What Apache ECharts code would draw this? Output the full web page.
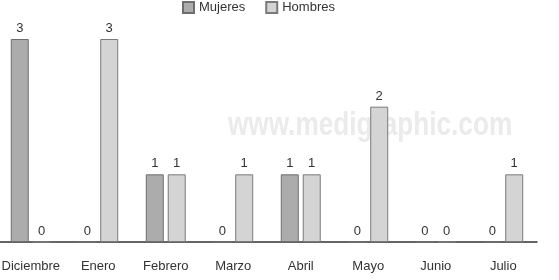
<!DOCTYPE html>
<html>
<head>
<meta charset="utf-8">
<script src="https://cdn.jsdelivr.net/npm/echarts@6/dist/echarts.min.js"></script>
<style>
  html, body { margin: 0; padding: 0; background: #fff; }
  #chart { width: 559px; height: 280px; }
</style>
</head>
<body>
<div id="chart"></div>
<script>
var meses = ['Diciembre', 'Enero', 'Febrero', 'Marzo', 'Abril', 'Mayo', 'Junio', 'Julio'];
var mujeres = [3, 0, 1, 0, 1, 0, 0, 0];
var hombres = [0, 3, 1, 1, 1, 2, 0, 1];

var chart = echarts.init(document.getElementById('chart'));

var etiqueta = {
    show: true,
    position: 'top',
    distance: 4,
    color: '#333',
    fontSize: 13,
    fontFamily: 'Liberation Sans'
};

var option = {
    animation: false,
    textStyle: { fontFamily: 'Liberation Sans' },
    graphic: [{
        type: 'text',
        x: 228,
        y: 126,
        scaleX: 0.77,
        z: -10,
        silent: true,
        style: {
            text: 'www.medigraphic.com',
            fill: '#ebebeb',
            font: 'bold 34px "Liberation Sans"',
            verticalAlign: 'middle'
        }
    }],
    legend: {
        left: 182,
        top: 1,
        padding: 0,
        itemWidth: 11,
        itemHeight: 11,
        itemGap: 20,
        icon: 'rect',
        textStyle: { color: '#333', fontSize: 13 },
        data: ['Mujeres', 'Hombres']
    },
    grid: { left: -3, width: 540, top: 39, bottom: 38, outerBoundsMode: 'none', containLabel: false },
    xAxis: {
        type: 'category',
        data: meses,
        axisLine: { lineStyle: { color: '#333', width: 1.5 } },
        axisTick: { show: false },
        axisLabel: { color: '#333', fontSize: 13, margin: 18, interval: 0 }
    },
    yAxis: {
        type: 'value',
        min: 0,
        max: 3,
        show: false
    },
    series: [
        {
            name: 'Mujeres',
            type: 'bar',
            data: mujeres,
            barWidth: 18,
            barGap: '22%',
            itemStyle: { color: '#acacac', borderColor: '#6e6e6e', borderWidth: 1 },
            label: etiqueta
        },
        {
            name: 'Hombres',
            type: 'bar',
            data: hombres,
            barWidth: 18,
            itemStyle: { color: '#d4d4d4', borderColor: '#7a7a7a', borderWidth: 1 },
            label: etiqueta
        }
    ]
};

chart.setOption(option);
</script>
</body>
</html>
